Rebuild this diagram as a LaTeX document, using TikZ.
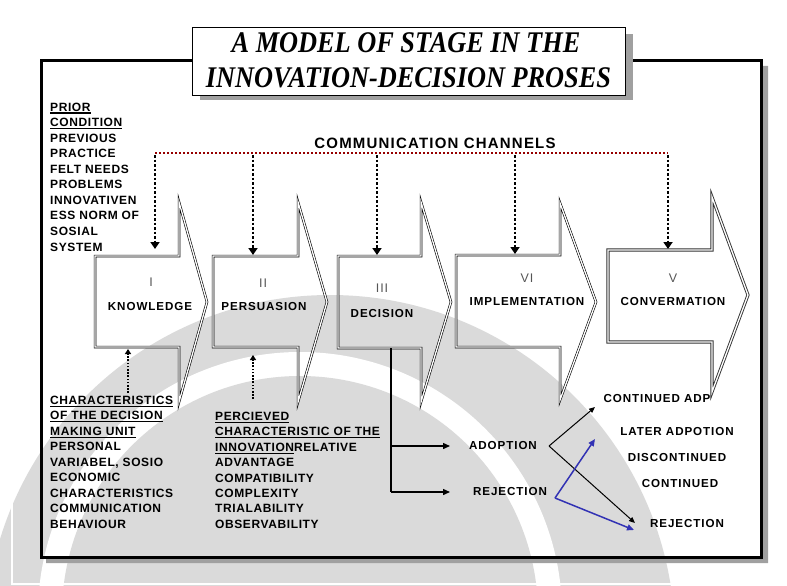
\documentclass[tikz,border=0pt]{standalone}
\usepackage{fontspec}
\usepackage{graphicx}
\setmainfont{Liberation Serif}
\newfontfamily\lsans{Liberation Sans}[LetterSpace=5]
\newfontfamily\lsansw{Liberation Sans}[LetterSpace=8]
\usetikzlibrary{arrows.meta}
\newcommand\ulx[1]{\setbox0=\hbox{#1}\rlap{\rule[-2.6pt]{\wd0}{1.2pt}}\box0}
\definecolor{wmgray}{RGB}{218,218,218}
\definecolor{shadowgray}{RGB}{160,160,160}
\definecolor{chanred}{RGB}{150,0,0}
\definecolor{arrblue}{RGB}{50,50,180}
\definecolor{numgray}{RGB}{85,85,85}
\begin{document}
\begin{tikzpicture}[x=1pt,y=-1pt,
  lbl/.style={font={\lsans\bfseries\fontsize{12}{14}\selectfont}, inner sep=0pt, anchor=base west},
  ctxt/.style={font={\lsansw\bfseries\fontsize{11.6}{14}\selectfont}, inner sep=0pt},
  num/.style={font={\lsansw\fontsize{12.5}{14}\selectfont}, text=numgray, inner sep=0pt},
  rtxt/.style={font={\lsansw\bfseries\fontsize{11.6}{14}\selectfont}, inner sep=0pt},
  chev/.style={draw=black, double=white, double distance=1.3pt, line width=0.6pt, line join=miter},
  chan/.style={line width=2.5pt, dash pattern=on 2.5pt off 2pt, -{Triangle[width=9pt,length=7pt]}},
  upch/.style={line width=1.6pt, dash pattern=on 1.6pt off 1.6pt, -{Triangle[width=6pt,length=5pt]}},
  darr/.style={line width=1.4pt, -{Triangle[width=6pt,length=7pt]}},
  xarr/.style={line width=1pt, -{Triangle[width=5pt,length=6pt]}},
  barr/.style={line width=1.5pt, draw=arrblue, -{Triangle[width=6pt,length=7pt]}}
]
\useasboundingbox (0,0) rectangle (787,586);
% watermark
\begin{scope}
  \clip (0,0) rectangle (787,586);
  \fill[wmgray] (330,640) circle[radius=345pt];
  \fill[white] (300,614) circle[radius=262pt];
  \fill[wmgray] (300,614) circle[radius=238pt];
\end{scope}
% outer frame
\draw[draw=black, double=white, double distance=1.2pt, line width=0.7pt] (800,3) -- (12,3) -- (12,584) -- (800,584);
% inner frame with shadow
\fill[shadowgray] (761,66) -- (768,66) -- (768,563) -- (46,563) -- (46,557) -- (761,557) -- cycle;
\draw[line width=3pt] (41,61) rectangle (761,557);
% title
\fill[shadowgray] (200,34) rectangle (633,100);
\node[draw, fill=white, line width=1pt, minimum width=433pt, minimum height=67pt, inner sep=0pt] (titlebox) at (408.5,61.5) {};
\node[font={\bfseries\itshape\fontsize{30}{30}\selectfont}, inner sep=0pt, anchor=base] (title1) at (406,53) {\scalebox{0.877}[1]{A MODEL OF STAGE IN THE}};
\node[font={\bfseries\itshape\fontsize{30}{30}\selectfont}, inner sep=0pt, anchor=base] (title2) at (408.5,88) {\scalebox{0.877}[1]{INNOVATION-DECISION PROSES}};
% left column
\foreach \t [count=\i] in {{\ulx{PRIOR}},{\ulx{CONDITION}},PREVIOUS,PRACTICE,FELT NEEDS,PROBLEMS,INNOVATIVEN,ESS NORM OF,SOSIAL,SYSTEM}
  \node[lbl] (pc\i) at (50,{111+15.56*(\i-1)}) {\t};
% communication channels
\node[font={\lsansw\bfseries\fontsize{15}{17}\selectfont}, inner sep=0pt] (cchan) at (435,143) {COMMUNICATION CHANNELS};
\coordinate (cc1) at (155,153);
\coordinate (cc2) at (253,153);
\coordinate (cc3) at (377,153);
\coordinate (cc4) at (515,153);
\coordinate (cc5) at (668,153);
\coordinate (k1) at (155,249);
\coordinate (k2) at (253,255);
\coordinate (k3) at (377,255);
\coordinate (k4) at (515,254);
\coordinate (k5) at (668,249);
\draw[chanred, line width=2.5pt, dash pattern=on 2pt off 2pt] (cc1) -- (cc5);
\foreach \i in {1,...,5}
  \draw[chan] ([yshift=-2pt]cc\i) -- (k\i);
% chevrons
\draw[chev] (95,256) -- (179,256) -- (179,202) -- (207,302) -- (179,402) -- (179,347) -- (95,347) -- cycle;
\draw[chev] (213,256) -- (298,256) -- (298,202) -- (327,302) -- (298,402) -- (298,347) -- (213,347) -- cycle;
\draw[chev] (338,256) -- (421,256) -- (421,202) -- (451,302) -- (421,402) -- (421,348) -- (338,348) -- cycle;
\draw[chev] (456,255) -- (560,255) -- (560,203) -- (596,302) -- (560,400) -- (560,347) -- (456,347) -- cycle;
\draw[chev, line width=0.9pt, draw=black!80] (608,250) -- (712,250) -- (712,197) -- (748,295) -- (712,392) -- (712,342) -- (608,342) -- cycle;
% chevron texts
\node[num] (n1) at (151,282) {I};
\node[ctxt] (t1) at (150,307) {KNOWLEDGE};
\node[num] (n2) at (263,283) {II};
\node[ctxt] (t2) at (264,307) {PERSUASION};
\node[num] (n3) at (382,288) {III};
\node[ctxt] (t3) at (382,314) {DECISION};
\node[num] (n4) at (527,278) {VI};
\node[ctxt] (t4) at (527,302) {IMPLEMENTATION};
\node[num] (n5) at (673,278) {V};
\node[ctxt] (t5) at (673,302) {CONVERMATION};
% lower texts
\foreach \t [count=\i] in {{\ulx{CHARACTERISTICS}},{\ulx{OF THE DECISION}},{\ulx{MAKING UNIT}},PERSONAL,{VARIABEL, SOSIO},ECONOMIC,CHARACTERISTICS,COMMUNICATION,BEHAVIOUR}
  \node[lbl] (dm\i) at (50,{404.3+15.5*(\i-1)}) {\t};
\foreach \t [count=\i] in {{\ulx{PERCIEVED}},{\ulx{CHARACTERISTIC OF THE}},{\ulx{INNOVATION} RELATIVE},ADVANTAGE,COMPATIBILITY,COMPLEXITY,TRIALABILITY,OBSERVABILITY}
  \node[lbl] (pi\i) at (215,{420.3+15.43*(\i-1)}) {\t};
\coordinate (u1s) at (128,393);
\coordinate (u1e) at (128,349);
\coordinate (u2s) at (253,399);
\coordinate (u2e) at (253,355);
\draw[upch] (u1s) -- (u1e);
\draw[upch] (u2s) -- (u2e);
% decision branches
\coordinate (d0) at (391,348);
\coordinate (d1) at (391,446);
\coordinate (d2) at (391,492);
\coordinate (a1) at (450,446);
\coordinate (a2) at (450,492);
\draw[line width=1.4pt] (d0) -- (d2);
\draw[darr] (d1) -- (a1);
\draw[darr] (d2) -- (a2);
\node[rtxt] (ad) at (503,446) {ADOPTION};
\node[rtxt] (rj) at (510,492) {REJECTION};
\coordinate (ao) at (549,446);
\coordinate (ro) at (555,498);
\coordinate (tca) at (595,407);
\coordinate (tla) at (595,439);
\coordinate (trj1) at (635,523);
\coordinate (trj2) at (634,530);
\draw[xarr] (ao) -- (tca);
\draw[xarr] (ao) -- (trj1);
\draw[barr] (ro) -- (tla);
\draw[barr] (ro) -- (trj2);
\node[rtxt] (cadp) at (657,399) {CONTINUED ADP};
\node[rtxt] (lado) at (677,432) {LATER ADPOTION};
\node[rtxt] (disc) at (677,458) {DISCONTINUED};
\node[rtxt] (cont) at (680,484) {CONTINUED};
\node[rtxt] (rej2) at (687,524) {REJECTION};
\end{tikzpicture}
\end{document}
